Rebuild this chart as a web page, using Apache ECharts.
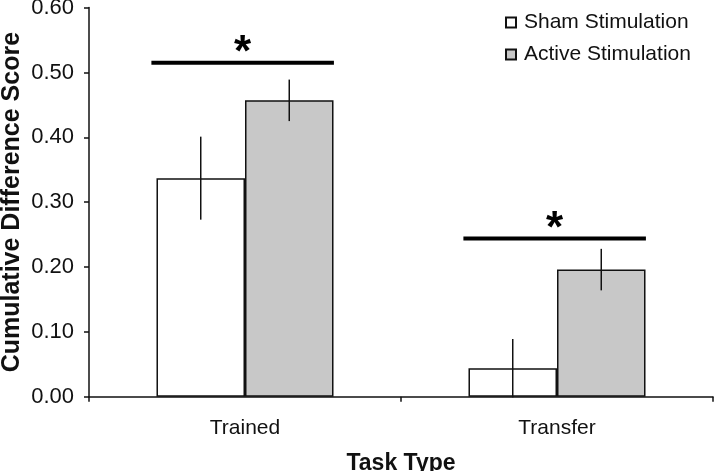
<!DOCTYPE html>
<html>
<head>
<meta charset="utf-8">
<script src="https://cdn.jsdelivr.net/npm/echarts@6/dist/echarts.min.js"></script>
<style>html,body{margin:0;padding:0;background:#fff}#c{width:714px;height:471px}</style>
</head>
<body>
<div id="c"></div>
<script>
const categories = ['Trained', 'Transfer'];
const shamValues = [0.337, 0.044];
const shamErr = [0.064, 0.045];
const activeValues = [0.457, 0.196];
const activeErr = [0.032, 0.032];
const sigLevels = [0.515, 0.244];
const yTicks = [0, 0.1, 0.2, 0.3, 0.4, 0.5, 0.6];

const FONT = 'Liberation Sans, Arial, sans-serif';
const BAR_FRAC = 0.2837;

function errData(vals, errs) {
  return vals.map((v, i) => [i, v - errs[i], v + errs[i]]);
}
function errSeries(vals, errs, side) {
  return {
    type: 'custom',
    silent: true,
    z: 5,
    data: errData(vals, errs),
    renderItem: function (params, api) {
      const bw = api.size([1, 0])[0];
      const lo = api.coord([api.value(0), api.value(1)]);
      const hi = api.coord([api.value(0), api.value(2)]);
      const x = lo[0] + side * bw * BAR_FRAC / 2;
      return {
        type: 'line',
        shape: { x1: x, y1: lo[1], x2: x, y2: hi[1] },
        style: { stroke: '#111', lineWidth: 1.5 }
      };
    }
  };
}

const chart = echarts.init(document.getElementById('c'));
chart.setOption({
  animation: false,
  backgroundColor: '#fff',
  textStyle: { fontFamily: FONT },
  grid: { left: 89, right: 1, top: 7.6, bottom: 74.3, containLabel: false, outerBoundsMode: 'none' },
  legend: {
    orient: 'vertical',
    left: 505,
    top: 12,
    padding: 0,
    itemWidth: 10,
    itemHeight: 10,
    itemGap: 11,
    icon: 'rect',
    textStyle: { fontSize: 21, color: '#111', fontFamily: FONT, lineHeight: 21, padding: [0, 0, 0, 3] },
    data: ['Sham Stimulation', 'Active Stimulation']
  },
  xAxis: {
    type: 'category',
    data: categories,
    name: 'Task Type',
    nameLocation: 'middle',
    nameGap: 55,
    nameMoveOverlap: false,
    nameTextStyle: { fontSize: 23, fontWeight: 'bold', color: '#111', fontFamily: FONT },
    axisLine: { lineStyle: { color: '#111', width: 1.5 } },
    axisTick: { show: true, length: 5, lineStyle: { color: '#111', width: 1.5 } },
    axisLabel: { fontSize: 21, color: '#111', margin: 21, fontFamily: FONT }
  },
  yAxis: {
    type: 'value',
    min: 0,
    max: 0.6,
    interval: 0.1,
    name: 'Cumulative Difference Score',
    nameLocation: 'middle',
    nameGap: 64,
    nameMoveOverlap: false,
    nameTextStyle: { fontSize: 25, fontWeight: 'bold', color: '#111', fontFamily: FONT },
    axisLine: { show: true, lineStyle: { color: '#111', width: 1.5 } },
    axisTick: { show: true, length: 5, lineStyle: { color: '#111', width: 1.5 } },
    splitLine: { show: false },
    axisLabel: {
      fontSize: 22, color: '#111', margin: 15, fontFamily: FONT,
      formatter: v => v.toFixed(2)
    }
  },
  series: [
    {
      name: 'Sham Stimulation',
      type: 'bar',
      data: shamValues,
      barWidth: (BAR_FRAC * 100) + '%',
      barGap: '0%',
      itemStyle: { color: '#ffffff', borderColor: '#111', borderWidth: 1.5 }
    },
    {
      name: 'Active Stimulation',
      type: 'bar',
      data: activeValues,
      barWidth: (BAR_FRAC * 100) + '%',
      barGap: '0%',
      itemStyle: { color: '#c8c8c8', borderColor: '#111', borderWidth: 1.5 }
    },
    errSeries(shamValues, shamErr, -1),
    errSeries(activeValues, activeErr, 1),
    {
      type: 'custom',
      silent: true,
      z: 6,
      data: sigLevels.map((v, i) => [i, v]),
      renderItem: function (params, api) {
        const bw = api.size([1, 0])[0];
        const p = api.coord([api.value(0), api.value(1)]);
        const x1 = p[0] - bw * 0.30;
        const x2 = p[0] + bw * 0.285;
        return {
          type: 'group',
          children: [
            { type: 'line', shape: { x1: x1, y1: p[1], x2: x2, y2: p[1] }, style: { stroke: '#000', lineWidth: 4 } },
            { type: 'text', style: { text: '*', x: (x1 + x2) / 2, y: p[1] - 9, align: 'center', verticalAlign: 'middle', font: 'bold 44px ' + FONT, fill: '#000' } }
          ]
        };
      }
    }
  ]
});
</script>
</body>
</html>
